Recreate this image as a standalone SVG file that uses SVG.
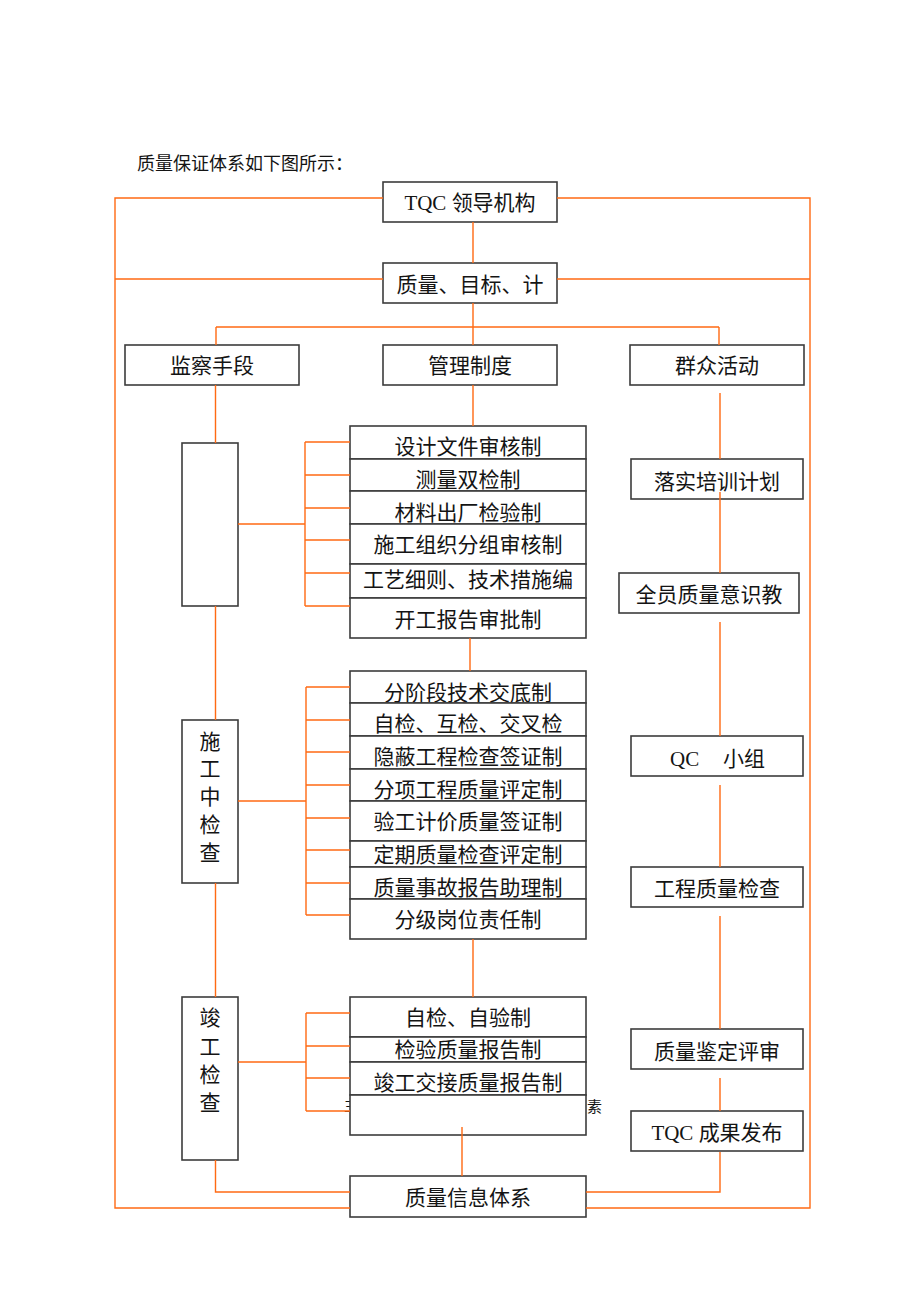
<svg xmlns="http://www.w3.org/2000/svg" width="920" height="1302" viewBox="0 0 920 1302">
<style>
.box{fill:#fff;stroke:#3c3c3c;stroke-width:1.6}
.t{font-family:"Liberation Serif","Noto Sans CJK SC",serif;font-size:21px;fill:#141414;text-anchor:middle}
.s{font-family:"Liberation Serif","Noto Sans CJK SC",serif;font-size:15px;fill:#141414}
.c{stroke:#FF6A13;stroke-width:1.4;fill:none}
</style>
<rect width="920" height="1302" fill="#fff"/>
<text x="137" y="170" style="font-family:'Liberation Serif','Noto Sans CJK SC',serif;font-size:18px;fill:#141414">质量保证体系如下图所示：</text>
<text class="s" x="344" y="1111">主</text>
<text class="s" x="587" y="1112">素</text>

<g id="tqc"><rect class="box" x="383" y="182" width="174" height="40"/><text class="t" x="470" y="210">TQC 领导机构</text></g>
<g id="target"><rect class="box" x="383" y="263" width="174" height="40"/><text class="t" x="470" y="292">质量、目标、计</text></g>
<g id="jiancha"><rect class="box" x="125" y="345" width="174" height="40"/><text class="t" x="212" y="373">监察手段</text></g>
<g id="guanli"><rect class="box" x="383" y="345" width="174" height="40"/><text class="t" x="470" y="373">管理制度</text></g>
<g id="qunzhong"><rect class="box" x="630" y="345" width="174" height="40"/><text class="t" x="717" y="373">群众活动</text></g>

<g id="left1"><rect class="box" x="182" y="443" width="56" height="163"/></g>
<g id="left2"><rect class="box" x="182" y="720" width="56" height="163"/>
<text class="t" x="210" y="749">施</text><text class="t" x="210" y="776">工</text><text class="t" x="210" y="804">中</text><text class="t" x="210" y="832">检</text><text class="t" x="210" y="860">查</text></g>
<g id="left3"><rect class="box" x="182" y="997" width="56" height="163"/>
<text class="t" x="210" y="1025">竣</text><text class="t" x="210" y="1054">工</text><text class="t" x="210" y="1082">检</text><text class="t" x="210" y="1110">查</text></g>

<g id="s1r1"><rect class="box" x="350" y="426" width="236" height="33"/><text class="t" x="468" y="453.5">设计文件审核制</text></g>
<g id="s1r2"><rect class="box" x="350" y="459" width="236" height="32"/><text class="t" x="468" y="486.5">测量双检制</text></g>
<g id="s1r3"><rect class="box" x="350" y="491" width="236" height="33"/><text class="t" x="468" y="519.5">材料出厂检验制</text></g>
<g id="s1r4"><rect class="box" x="350" y="524" width="236" height="40"/><text class="t" x="468" y="551.5">施工组织分组审核制</text></g>
<g id="s1r5"><rect class="box" x="350" y="564" width="236" height="34"/><text class="t" x="468" y="586.5">工艺细则、技术措施编</text></g>
<g id="s1r6"><rect class="box" x="350" y="598" width="236" height="40"/><text class="t" x="468" y="626.5">开工报告审批制</text></g>

<g id="s2r1"><rect class="box" x="350" y="671" width="236" height="32"/><text class="t" x="468" y="699.5">分阶段技术交底制</text></g>
<g id="s2r2"><rect class="box" x="350" y="703" width="236" height="33"/><text class="t" x="468" y="731">自检、互检、交叉检</text></g>
<g id="s2r3"><rect class="box" x="350" y="736" width="236" height="33"/><text class="t" x="468" y="764">隐蔽工程检查签证制</text></g>
<g id="s2r4"><rect class="box" x="350" y="769" width="236" height="32"/><text class="t" x="468" y="796.5">分项工程质量评定制</text></g>
<g id="s2r5"><rect class="box" x="350" y="801" width="236" height="40"/><text class="t" x="468" y="829">验工计价质量签证制</text></g>
<g id="s2r6"><rect class="box" x="350" y="841" width="236" height="26"/><text class="t" x="468" y="862">定期质量检查评定制</text></g>
<g id="s2r7"><rect class="box" x="350" y="867" width="236" height="32"/><text class="t" x="468" y="894.5">质量事故报告助理制</text></g>
<g id="s2r8"><rect class="box" x="350" y="899" width="236" height="40"/><text class="t" x="468" y="927">分级岗位责任制</text></g>

<g id="s3r1"><rect class="box" x="350" y="997" width="236" height="40"/><text class="t" x="468" y="1025">自检、自验制</text></g>
<g id="s3r2"><rect class="box" x="350" y="1037" width="236" height="25"/><text class="t" x="468" y="1057">检验质量报告制</text></g>
<g id="s3r3"><rect class="box" x="350" y="1062" width="236" height="33"/><text class="t" x="468" y="1090">竣工交接质量报告制</text></g>
<g id="s3r4"><rect class="box" x="350" y="1095" width="236" height="40"/></g>

<g id="info"><rect class="box" x="350" y="1176" width="236" height="41"/><text class="t" x="468" y="1205">质量信息体系</text></g>

<g id="r1"><rect class="box" x="631" y="459" width="172" height="40"/><text class="t" x="717" y="488.5">落实培训计划</text></g>
<g id="r2"><rect class="box" x="619" y="573" width="180" height="40"/><text class="t" x="709" y="601.5">全员质量意识教</text></g>
<g id="r3"><rect class="box" x="631" y="736" width="172" height="40"/><text class="t" x="670" y="766" style="text-anchor:start">QC</text><text class="t" x="723" y="766" style="text-anchor:start">小组</text></g>
<g id="r4"><rect class="box" x="631" y="867" width="172" height="40"/><text class="t" x="717" y="896">工程质量检查</text></g>
<g id="r5"><rect class="box" x="631" y="1029" width="172" height="40"/><text class="t" x="717" y="1059">质量鉴定评审</text></g>
<g id="r6"><rect class="box" x="631" y="1111" width="172" height="40"/><text class="t" x="717" y="1139.5">TQC 成果发布</text></g>

<g id="connectors">
<path class="c" d="M383,198 H115 V1208 H350 M557,198 H810 V1208 H586 M115,279 H383 M557,279 H810"/>
<path class="c" d="M473,222 V263 M473,303 V345 M216,327 H719 M216,327 V345 M719,327 V345"/>
<path class="c" d="M215.5,385 V443 M215.5,606 V720 M215.5,883 V997 M215.5,1160 V1192 H350"/>
<path class="c" d="M473,385 V426 M470,638 V671 M473,939 V997 M462,1127 V1176"/>
<path class="c" d="M238,524 H305 M305,442 V606 M305,442 H350 M305,475 H350 M305,508 H350 M305,540 H350 M305,573 H350 M305,606 H350"/>
<path class="c" d="M238,801 H306 M306,687 V915 M306,687 H350 M306,720 H350 M306,752 H350 M306,785 H350 M306,818 H350 M306,850 H350 M306,883 H350 M306,915 H350"/>
<path class="c" d="M238,1062 H306 M306,1013 V1111 M306,1013 H350 M306,1046 H350 M306,1078 H350 M306,1111 H350"/>
<path class="c" d="M720,393 V459 M720,492 V573 M720,622 V736 M720,785 V867 M720,916 V1029 M720,1078 V1111 M720,1152 V1192 H586"/>
</g>
</svg>
